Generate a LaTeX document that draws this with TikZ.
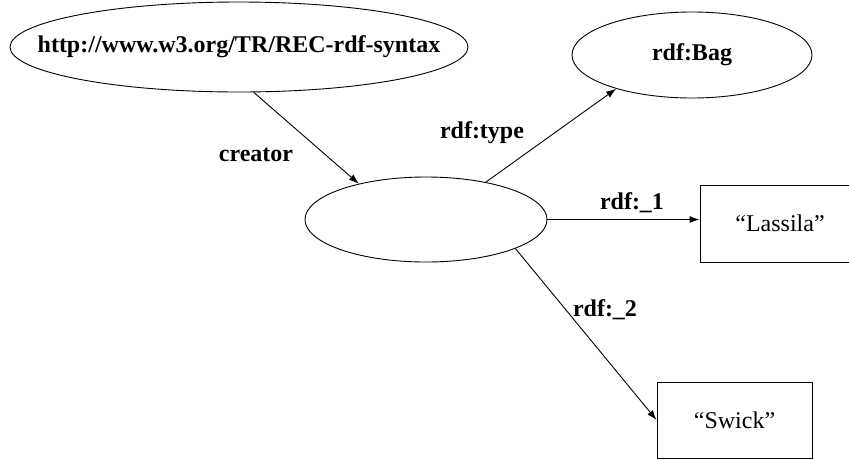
\documentclass[tikz,border=0pt]{standalone}
\usepackage{fontspec}
\setmainfont{Liberation Serif}
\usetikzlibrary{shapes.geometric,arrows.meta}
\newcommand{\rdfsize}{\fontsize{24}{28}\selectfont}
\newcommand{\nowidth}[1]{\makebox[0pt]{#1}}
\tikzset{
  res/.style={draw,ellipse,inner sep=0pt,font=\rdfsize\bfseries},
  lit/.style={draw,rectangle,inner sep=0pt,font=\rdfsize},
  prop/.style={font=\rdfsize\bfseries},
  rel/.style={-{Latex[length=10pt,width=7pt]}}
}
\begin{document}
\begin{tikzpicture}[x=1pt,y=-1pt,line width=0.9pt]
\useasboundingbox (0,0) rectangle (849,459);
\node[res,minimum width=458,minimum height=90](doc) at (239,47){\nowidth{http://www.w3.org/TR/REC-rdf-syntax}};
\node[res,minimum width=240,minimum height=86](bag) at (692,55){\nowidth{rdf:Bag}};
\node[res,minimum width=242,minimum height=85](anon) at (426,219.5){};
\node[lit,minimum width=160,minimum height=77](lassila) at (780,223.5){``Lassila''};
\node[lit,minimum width=155,minimum height=76](swick) at (734.5,420){``Swick''};
%
\draw[rel](doc.-72)--(anon.152);
\draw[rel](anon.32)--(bag.204);
\draw[rel](anon.east)--(anon.east-|lassila.west);
\draw[rel](anon.-18)--(swick.west);
%
\node[prop](creator) at (256,155){creator};
\node[prop](type) at (482,133){rdf:type};
\node[prop](one) at (632,203){rdf:\_1};
\node[prop](two) at (605,310){rdf:\_2};
\end{tikzpicture}
\end{document}
